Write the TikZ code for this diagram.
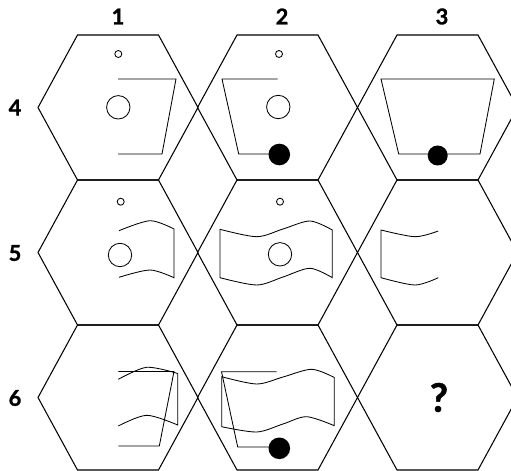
\documentclass[tikz,border=0pt]{standalone}
\usepackage{fontspec}
\usepackage{tikz}
\newfontfamily\labelfont[BoldFeatures={FakeBold=1.2}]{Lato}

\begin{document}
\begin{tikzpicture}[x=0.05cm, y=-0.05cm,
    hexline/.style={line width=1.5pt, line join=miter},
    fig/.style={line width=1.2pt, line join=miter},
    lbl/.style={font=\labelfont\bfseries\fontsize{31}{33}\selectfont},
    hex/.pic={\draw[hexline] (-80,0) -- (-40.5,-72.5) -- (40.5,-72.5) -- (80,0) -- (40.5,72.5) -- (-40.5,72.5) -- cycle;}
  ]
  \useasboundingbox (0,0) rectangle (511,471);
  \clip (0,0) rectangle (511,471);

  % Grid of cells
  \pic at (118,107.5) {hex};
  \pic at (277.5,107.5) {hex};
  \pic at (437.5,107.5) {hex};
  \pic at (118,252.5) {hex};
  \pic at (277.5,252.5) {hex};
  \pic at (437.5,252.5) {hex};
  \pic at (118,397.5) {hex};
  \pic at (277.5,397.5) {hex};
  \pic at (437.5,397.5) {hex};

  % Column and row labels
  \node[lbl] (c1) at (118,16.5) {1};
  \node[lbl] (c2) at (282,16.5) {2};
  \node[lbl] (c3) at (442,16.5) {3};
  \node[lbl] (r4) at (15,107.5) {4};
  \node[lbl] (r5) at (15,253) {5};
  \node[lbl] (r6) at (15,398) {6};

  % Row 4
  \draw[fig] (118.3,54) circle (3.5);
  \draw[fig] (118.3,107.3) circle (11.7);
  \draw[fig] (118,79) -- (176,79) -- (162,154) -- (118,154);

  \draw[fig] (279,54) circle (3.5);
  \draw[fig] (278.3,107) circle (11.7);
  \draw[fig] (277.5,79) -- (222,79) -- (238.7,154) -- (279,154);
  \fill (279.3,154.5) circle (10.8);

  \draw[fig] (381,79) -- (494.3,79) -- (480,154) -- (398.7,154) -- cycle;
  \fill (437.7,155.5) circle (10);

  % Row 5
  \draw[fig] (120.7,201.7) circle (3.5);
  \draw[fig] (120,255) circle (11.7);
  \draw[fig] plot[smooth] coordinates {(119,230.7) (150,220.7) (174,229)}
    -- plot[smooth] coordinates {(174,277.7) (150,270) (119,277.3)};

  \draw[fig] (280,201.7) circle (3.5);
  \draw[fig] (280,254.3) circle (11.7);
  \draw[fig] plot[smooth] coordinates {(220,229.3) (256.7,236.7) (283,229) (310,221) (332.3,230)}
    -- plot[smooth] coordinates {(332.3,277.7) (310,268.3) (283,277) (256.7,285) (220,277.7)} -- cycle;

  \draw[fig] plot[smooth] coordinates {(438.3,231) (415,236.7) (381,230)}
    -- plot[smooth] coordinates {(381,277.7) (415,285) (438.3,277.7)};

  % Row 6
  \draw[fig] (118.3,371.5) -- (174,371.5) -- (159.3,446) -- (118.3,446);
  \draw[fig] plot[smooth] coordinates {(118.3,379.3) (146.7,367.3) (177.7,373.5)}
    -- plot[smooth] coordinates {(177.7,425) (146.7,415.3) (118.3,426)};

  \draw[fig] (276.7,371.7) -- (221.5,371.7) -- (237.7,447) -- (279.3,447);
  \fill (279.3,448.3) circle (10.8);
  \draw[fig] plot[smooth] coordinates {(221.7,376.7) (256.7,384) (283,377) (311.7,369.3) (334.3,377.5)}
    -- plot[smooth] coordinates {(334.3,425.7) (306.7,416.7) (283,424) (256.7,432) (221.7,426.7)} -- cycle;

  \node[font=\labelfont\bfseries\fontsize{56}{58}\selectfont] (q) at (439,397.5) {?};
\end{tikzpicture}
\end{document}
